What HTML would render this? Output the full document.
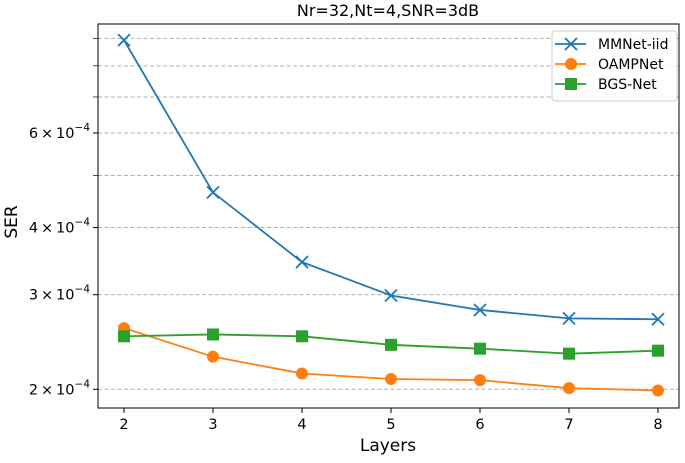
<!DOCTYPE html>
<html><head><meta charset="utf-8"><style>
body{margin:0;background:#fff}
svg text{font-family:"DejaVu Sans","Liberation Sans",sans-serif;fill:#000}
</style></head><body>
<svg id="chart" width="685" height="458" xmlns="http://www.w3.org/2000/svg">
<text x="388" y="16" font-size="16" text-anchor="middle">Nr=32,Nt=4,SNR=3dB</text>
<g id="grid"></g><g id="axes"></g><g id="series"></g>
<text x="388" y="451" font-size="17" text-anchor="middle">Layers</text>
<text transform="translate(17,222) rotate(-90)" font-size="17" text-anchor="middle">SER</text>
<g>
<rect x="552" y="31" width="125" height="70" rx="3" fill="#fff" fill-opacity="0.85" stroke="#ccc"/>
<line x1="555" y1="44" x2="586" y2="44" stroke="#1f77b4" stroke-width="1.8"/>
<path d="M565 38 L577 50 M565 50 L577 38" stroke="#1f77b4" stroke-width="1.8"/>
<text x="598" y="49" font-size="14">MMNet-iid</text>
<line x1="555" y1="64" x2="586" y2="64" stroke="#ff7f0e" stroke-width="1.8"/>
<circle cx="571" cy="64" r="6" fill="#ff7f0e"/>
<text x="598" y="69" font-size="14">OAMPNet</text>
<line x1="555" y1="84" x2="586" y2="84" stroke="#2ca02c" stroke-width="1.8"/>
<rect x="565" y="78" width="12" height="12" fill="#2ca02c"/>
<text x="598" y="89" font-size="14">BGS-Net</text>
</g>
</svg>
<script>
const layers=[2,3,4,5,6,7,8];
const mmnet=[8.93e-4,4.65e-4,3.45e-4,2.99e-4,2.81e-4,2.71e-4,2.70e-4];
const oampnet=[2.60e-4,2.30e-4,2.14e-4,2.09e-4,2.08e-4,2.01e-4,1.99e-4];
const bgsnet=[2.51e-4,2.53e-4,2.51e-4,2.42e-4,2.38e-4,2.33e-4,2.36e-4];
const majorTicks=[2e-4,3e-4,4e-4,6e-4];
const majorLabels=["2","3","4","6"];
const minorTicks=[5e-4,7e-4,8e-4,9e-4];
const NS="http://www.w3.org/2000/svg";
const L=98,R=679,T=24,B=408;
const x=v=>124+(v-2)*89;
const y=v=>389.3-Math.log10(v/2e-4)*537.3;
function mk(tag,attrs,parent){const e=document.createElementNS(NS,tag);for(const k in attrs)e.setAttribute(k,attrs[k]);parent.appendChild(e);return e;}
const grid=document.getElementById('grid'),axes=document.getElementById('axes'),ser=document.getElementById('series');
majorTicks.concat(minorTicks).forEach(v=>{
 const g=mk('line',{x1:L,x2:R,y1:y(v),y2:y(v),stroke:'#b0b0b0','stroke-dasharray':'4,2.5','stroke-width':1},grid);
 
 
 const t=mk('line',{x1:L-5,x2:L,y1:y(v),y2:y(v),stroke:'#000','stroke-width':majorTicks.includes(v)?1:0.7},axes);
 
 
});
majorTicks.forEach((v,i)=>{
 const t=mk('text',{x:L-8,y:y(v)+5,'font-size':14.5,'text-anchor':'end'},axes);
 
 
 t.innerHTML=majorLabels[i]+'\u2009\u00d7\u200910<tspan dy="-7" font-size="10.5">\u22124</tspan>';
});
layers.forEach(v=>{
 const t=mk('line',{x1:x(v),x2:x(v),y1:B,y2:B+5,stroke:'#000'},axes);
 
 
 const l=mk('text',{x:x(v),y:B+21,'font-size':14.5,'text-anchor':'middle'},axes);
 
 
 l.textContent=v;
});
const fr=mk('rect',{x:L,y:T,width:R-L,height:B-T,fill:'none',stroke:'#000','stroke-width':1},axes);


function series(vals,color,marker,name){
 const p=mk('polyline',{points:layers.map((v,i)=>x(v)+','+y(vals[i])).join(' '),fill:'none',stroke:color,'stroke-width':1.8},ser);
 
 
 layers.forEach((v,i)=>{
  const cx=x(v),cy=y(vals[i]);let m;
  if(marker==='x')m=mk('path',{d:`M${cx-6} ${cy-6}L${cx+6} ${cy+6}M${cx-6} ${cy+6}L${cx+6} ${cy-6}`,stroke:color,'stroke-width':1.8},ser);
  else if(marker==='o')m=mk('circle',{cx,cy,r:6,fill:color},ser);
  else m=mk('rect',{x:cx-6,y:cy-6,width:12,height:12,fill:color},ser);
  
  
 });
}
series(mmnet,'#1f77b4','x','mmnet');
series(oampnet,'#ff7f0e','o','oampnet');
series(bgsnet,'#2ca02c','s','bgsnet');
</script>
</body></html>
